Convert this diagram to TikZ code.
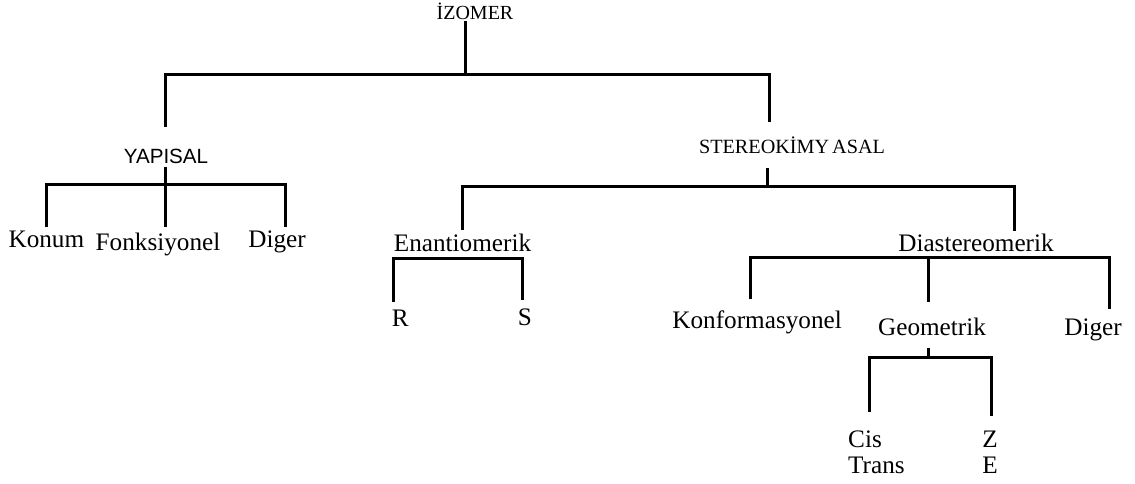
\documentclass[tikz,border=0pt]{standalone}
\usepackage{fontspec}
\setmainfont{Liberation Serif}
\newfontfamily\labelfont{Liberation Serif}
\newfontfamily\yapfont{Liberation Sans}

\tikzset{
  lbl/.style={inner sep=0pt, anchor=base, text=black,
    font=\labelfont\fontsize{25.2bp}{30bp}\selectfont},
  rootlbl/.style={lbl, font=\labelfont\fontsize{20bp}{24bp}\selectfont},
  stereolbl/.style={lbl, font=\labelfont\fontsize{20.2bp}{24bp}\selectfont},
  yaplbl/.style={lbl, font=\yapfont\fontsize{20.6bp}{24bp}\selectfont},
  branch/.style={draw=black, line width=3bp, line join=miter, line cap=butt},
}

\begin{document}
\begin{tikzpicture}[x=1bp, y=-1bp]
\useasboundingbox (0,0) rectangle (1135,484);

% labels
\node[rootlbl]   (izomer) at (475,19.5)  {İZOMER};
\node[yaplbl]    (yapisal) at (166,164)  {YAPISAL};
\node[stereolbl] (stereo) at (792,154)   {STEREOKİMY\kern3bp ASAL};
\node[lbl] (konum) at (46.4,248)  {Konum};
\node[lbl] (fonk)  at (158,251)   {Fonksiyonel};
\node[lbl] (diger1) at (277,248)  {Diger};
\node[lbl] (enant) at (462.5,251.5) {Enantiomerik};
\node[lbl] (diast) at (976,251.5)   {Diastereomerik};
\node[lbl, anchor=base west] (r) at (391.7,327) {R};
\node[lbl] (s) at (525,326) {S};
\node[lbl, anchor=base east] (konf) at (842,329) {Konformasyonel};
\node[lbl] (geom) at (932,336) {Geometrik};
\node[lbl] (diger2) at (1093,336) {Diger};
\node[lbl, anchor=base west] (cis) at (848,447) {Cis};
\node[lbl, anchor=base west] (trans) at (848,473) {Trans};
\node[lbl] (z) at (990,447) {Z};
\node[lbl] (e) at (990,473) {E};

% junction points of the tree
\coordinate (izoT) at (465,21);
\coordinate (izoJ) at (465,75);
\coordinate (yapT) at (165.5,127);
\coordinate (steT) at (769.5,122);

\coordinate (yapB) at (165,167);
\coordinate (yapJ) at (165,185);
\coordinate (konT) at (46.5,227);
\coordinate (fonT) at (165,227);
\coordinate (digT) at (285,227);

\coordinate (steB) at (767.5,168);
\coordinate (steJ) at (767.5,186.5);
\coordinate (enT)  at (462.7,230);
\coordinate (diaT) at (1014.5,231.5);

\coordinate (rT) at (393.3,301.7);
\coordinate (rC) at (393.3,258.3);
\coordinate (sC) at (522.7,258.3);
\coordinate (sT) at (522.7,300);

\coordinate (kfT) at (750.7,299.3);
\coordinate (diJ) at (928.5,257.8);
\coordinate (geT) at (928.5,302.3);
\coordinate (dgT) at (1109.3,309);

\coordinate (geB) at (928.5,348.3);
\coordinate (geJ) at (928.5,357.3);
\coordinate (cisT) at (869.3,411.7);
\coordinate (zT)   at (991.7,415.7);

% İZOMER
\draw[branch] (izoT) -- (izoJ);
\draw[branch] (yapT) |- (izoJ) -| (steT);
% YAPISAL
\draw[branch] (yapB) -- (fonT);
\draw[branch] (konT) |- (yapJ) -| (digT);
% STEREOKİMYASAL
\draw[branch] (steB) -- (steJ);
\draw[branch] (enT) |- (steJ) -| (diaT);
% Enantiomerik
\draw[branch] (rT) -- (rC) -- (sC) -- (sT);
% Diastereomerik
\draw[branch] (kfT) |- (diJ) -| (dgT);
\draw[branch] (diJ) -- (geT);
% Geometrik
\draw[branch] (geB) -- (geJ);
\draw[branch] (cisT) |- (geJ) -| (zT);
\end{tikzpicture}
\end{document}
